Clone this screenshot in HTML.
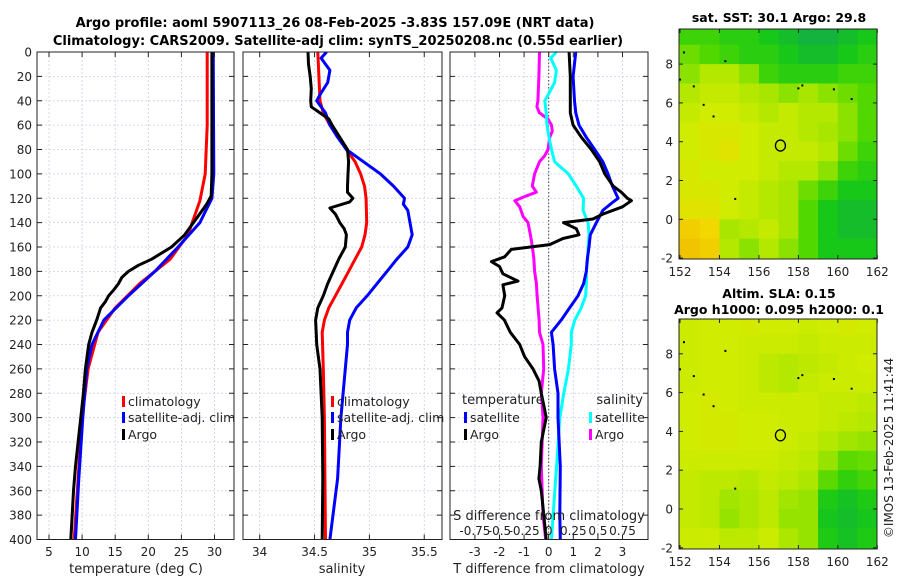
<!DOCTYPE html>
<html><head><meta charset="utf-8"><style>
html,body{margin:0;padding:0;background:#fff}
svg{display:block;font-family:"DejaVu Sans","Liberation Sans",sans-serif}
</style></head><body>
<svg id="fig" width="900" height="580" viewBox="0 0 900 580" xmlns="http://www.w3.org/2000/svg">
<text x="335" y="27" text-anchor="middle" font-size="13" font-weight="bold">Argo profile: aoml 5907113_26 08-Feb-2025 -3.83S 157.09E (NRT data)</text>
<text x="338" y="45" text-anchor="middle" font-size="13" font-weight="bold">Climatology: CARS2009. Satellite-adj clim: synTS_20250208.nc (0.55d earlier)</text>
<g id="g1"></g>
<g id="g2"></g>
<g id="g3"></g>
<g id="m1"></g>
<g id="m2"></g>
<text transform="translate(893,448) rotate(-90)" text-anchor="middle" font-size="12" fill="#222">©IMOS 13-Feb-2025 11:41:44</text>
</svg>
<script>
// ---- depth axis ----
const depthTicks = [0,20,40,60,80,100,120,140,160,180,200,220,240,260,280,300,320,340,360,380,400];
// ---- temperature panel ----
const tempTicks = [5,10,15,20,25,30];
const argoTD = [0,50,100,118,125,135,150,160,170,175,180,185,190,195,200,205,210,220,230,240,260,280,300,320,340,360,380,400];
const argoT  = [29.6,29.6,29.6,29.5,28.8,27.5,25.5,23.5,20.5,18.5,17,16,15.5,14.8,14,13.5,12.8,12.2,11.5,11,10.5,10.2,9.8,9.4,9,8.7,8.5,8.3];
const climTD = [0,60,100,122,150,170,190,210,230,260,300,350,400];
const climT  = [28.9,28.9,28.6,27.8,26,23.3,18.7,15,12.4,10.9,10,9.4,8.8];
const satTD  = [0,100,120,140,160,180,200,220,240,260,300,350,400];
const satT   = [29.8,29.9,29.6,27.8,24.5,21,17,13.3,11.5,10.7,10.1,9.5,9.0];
// ---- salinity panel ----
const salTicks = [34,34.5,35,35.5];
const argoSD = [0,10,20,30,40,45,50,55,60,70,80,90,100,110,115,120,123,128,133,140,145,150,160,170,180,190,200,210,220,230,240,260,300,350,400];
const argoS  = [34.44,34.445,34.46,34.47,34.465,34.47,34.55,34.63,34.66,34.73,34.80,34.81,34.805,34.80,34.80,34.85,34.82,34.64,34.69,34.73,34.77,34.79,34.78,34.72,34.67,34.62,34.58,34.53,34.51,34.515,34.52,34.55,34.57,34.575,34.57];
const climSD = [0,20,40,50,60,70,80,90,100,110,120,140,150,160,170,180,190,200,210,220,230,260,300,400];
const climS  = [34.53,34.54,34.55,34.58,34.64,34.72,34.79,34.87,34.92,34.955,34.97,34.975,34.96,34.93,34.87,34.81,34.75,34.69,34.63,34.59,34.57,34.58,34.59,34.60];
const satSD  = [0,5,15,25,35,40,50,60,70,80,90,100,110,120,125,130,140,150,160,170,180,190,200,210,220,230,240,260,300,350,400];
const satS   = [34.61,34.56,34.64,34.62,34.55,34.52,34.60,34.64,34.71,34.79,34.945,35.10,35.22,35.32,35.31,35.35,35.37,35.39,35.35,35.25,35.16,35.07,34.98,34.88,34.82,34.80,34.80,34.78,34.74,34.71,34.64];
// ---- difference panel ----
const diffTTicks = [-3,-2,-1,0,1,2,3];
const diffSTicks = [-0.75,-0.5,-0.25,0,0.25,0.5,0.75];
const dTArgoD = [0,20,40,50,60,70,80,90,100,110,115,120,122,127,133,137,140,145,150,153,158,162,168,172,176,182,188,191,200,210,214,220,230,240,250,260,270,280,290,300,320,340,350,360,380,400];
const dTArgo  = [0.83,0.88,0.88,0.88,0.99,1.33,1.73,2.07,2.28,2.62,2.95,3.2,3.36,3.0,2.2,1.8,0.6,1.12,1.23,0.58,0.04,-1.52,-1.79,-2.33,-2.0,-1.86,-1.25,-1.86,-1.79,-1.9,-2.1,-1.8,-1.56,-1.18,-0.98,-0.64,-0.39,-0.3,-0.2,-0.1,-0.3,-0.35,-0.4,-0.3,-0.2,-0.1];
const dTSatD = [0,20,40,50,60,70,80,90,100,110,120,123,130,140,150,160,170,180,190,200,210,220,230,240,260,280,300,340,380,400];
const dTSat  = [1.1,0.99,1.05,1.1,1.23,1.53,1.87,2.2,2.41,2.59,2.82,2.62,2.2,1.94,1.69,1.64,1.57,1.53,1.42,1.19,0.85,0.51,0.11,0.18,0.24,0.38,0.38,0.47,0.45,0.47];
const dSSatD = [0,5,15,25,35,40,50,60,70,80,90,100,110,120,130,140,150,160,170,180,190,200,210,220,230,240,260,280,300,340,380,400];
const dSSat  = [0.078,0.02,0.078,0.06,-0.005,-0.04,-0.025,-0.017,0.003,0.028,0.06,0.2,0.28,0.355,0.35,0.4,0.41,0.4,0.395,0.383,0.383,0.375,0.33,0.265,0.23,0.23,0.2,0.153,0.113,0.08,0.045,0.028];
const dSArgoD = [0,20,40,45,50,55,60,65,70,80,85,90,100,110,115,118,122,127,135,140,150,160,170,180,190,200,210,220,230,240,260,280,300,340,380,400];
const dSArgo  = [-0.093,-0.1,-0.11,-0.12,-0.093,-0.007,0.028,0.037,0.01,-0.007,-0.04,-0.093,-0.143,-0.167,-0.125,-0.225,-0.345,-0.295,-0.26,-0.21,-0.186,-0.166,-0.15,-0.143,-0.125,-0.118,-0.108,-0.098,-0.093,-0.058,-0.051,-0.075,-0.058,-0.075,-0.058,-0.03];
// ---- maps ----
const lonTicks = [152,154,156,158,160,162];
const latTicks = [-2,0,2,4,6,8];
const sstGrid = [
[0.75,0.75,0.8,0.8,0.85,0.9,0.95,0.95,0.9,0.85],
[0.65,0.7,0.75,0.8,0.8,0.85,0.9,0.9,0.85,0.8],
[0.6,0.5,0.5,0.6,0.75,0.8,0.8,0.8,0.75,0.75],
[0.5,0.45,0.45,0.5,0.55,0.6,0.55,0.6,0.65,0.7],
[0.45,0.4,0.4,0.45,0.5,0.45,0.5,0.5,0.6,0.7],
[0.4,0.35,0.35,0.4,0.45,0.45,0.5,0.55,0.6,0.7],
[0.4,0.35,0.3,0.4,0.45,0.45,0.45,0.5,0.65,0.75],
[0.35,0.4,0.4,0.4,0.45,0.5,0.5,0.6,0.75,0.8],
[0.35,0.35,0.4,0.45,0.5,0.55,0.65,0.75,0.85,0.85],
[0.3,0.3,0.4,0.45,0.5,0.55,0.7,0.85,0.9,0.9],
[0.15,0.2,0.55,0.5,0.45,0.55,0.7,0.85,0.9,0.9],
[0.1,0.15,0.5,0.6,0.5,0.6,0.7,0.85,0.85,0.85]];
const slaGrid = [
[0.42,0.4,0.4,0.38,0.4,0.4,0.42,0.4,0.38,0.4],
[0.42,0.4,0.4,0.42,0.42,0.42,0.45,0.42,0.42,0.42],
[0.42,0.4,0.4,0.42,0.47,0.5,0.47,0.45,0.42,0.4],
[0.42,0.4,0.4,0.42,0.47,0.5,0.45,0.42,0.42,0.42],
[0.4,0.38,0.4,0.42,0.42,0.42,0.42,0.45,0.45,0.47],
[0.4,0.38,0.38,0.4,0.4,0.42,0.42,0.45,0.47,0.5],
[0.4,0.38,0.38,0.4,0.4,0.42,0.45,0.5,0.56,0.58],
[0.42,0.42,0.42,0.42,0.42,0.45,0.48,0.58,0.68,0.66],
[0.45,0.47,0.47,0.5,0.45,0.48,0.53,0.68,0.78,0.73],
[0.45,0.47,0.56,0.53,0.47,0.56,0.58,0.83,0.88,0.83],
[0.45,0.47,0.58,0.53,0.47,0.58,0.58,0.86,0.9,0.86],
[0.42,0.42,0.47,0.47,0.42,0.53,0.58,0.83,0.88,0.83]];
const floatLon = [157.09];
const floatLat = [3.8];
const islandLon = [152.2,152.7,153.2,153.7,154.3,158.0,158.2,159.8,160.7,152.0,154.8];
const islandLat = [8.6,6.85,5.9,5.3,8.15,6.75,6.9,6.7,6.2,7.2,1.05];

const NS='http://www.w3.org/2000/svg';
function el(parent,tag,attrs){const e=document.createElementNS(NS,tag);for(const k in attrs)e.setAttribute(k,attrs[k]);parent.appendChild(e);return e;}
const Y0=52,Y1=539.5;
const yD=d=>Y0+d*(Y1-Y0)/400;

function frame(g,L,R,xTicks,xf,labelsLeft,prefix){
  for(const d of depthTicks){const l=el(g,'line',{x1:L,x2:R,y1:yD(d),y2:yD(d),stroke:'#c8d0e8','stroke-width':0.8,'stroke-dasharray':'2,2'});
  }
  for(const v of xTicks){const x=xf(v);const l=el(g,'line',{x1:x,x2:x,y1:Y0,y2:Y1,stroke:'#c8d0e8','stroke-width':0.8,'stroke-dasharray':'2,2'});
  }
}
function axes(g,L,R,xTicks,xf,labels,labelsLeft,prefix){
  const b=el(g,'rect',{x:L,y:Y0,width:R-L,height:Y1-Y0,fill:'none',stroke:'#222','stroke-width':1});
  
  for(const d of depthTicks){
    el(g,'line',{x1:L,x2:L+5,y1:yD(d),y2:yD(d),stroke:'#222'});
    el(g,'line',{x1:R-5,x2:R,y1:yD(d),y2:yD(d),stroke:'#222'});
    if(labelsLeft){const t=el(g,'text',{x:L-5,y:yD(d)+4.5,'text-anchor':'end','font-size':12,fill:'#222'});t.textContent=d;
      }
  }
  xTicks.forEach((v,i)=>{const x=xf(v);
    el(g,'line',{x1:x,x2:x,y1:Y1,y2:Y1-5,stroke:'#222'});el(g,'line',{x1:x,x2:x,y1:Y0,y2:Y0+5,stroke:'#222'});
    const t=el(g,'text',{x:x,y:556,'text-anchor':'middle','font-size':12,fill:'#222'});t.textContent=labels[i];
    });
}
function series(g,ds,vs,xf,color,name,clip){
  const pts=ds.map((d,i)=>xf(vs[i]).toFixed(1)+','+yD(d).toFixed(1)).join(' ');
  const p=el(g,'polyline',{points:pts,fill:'none',stroke:color,'stroke-width':3,'stroke-linejoin':'round','clip-path':'url(#'+clip+')'});
  
}
function clipRect(id,x,y,w,h){const svg=document.getElementById('fig');let defs=svg.querySelector('defs')||el(svg,'defs',{});const c=el(defs,'clipPath',{id:id});el(c,'rect',{x:x,y:y,width:w,height:h});}
function legendItem(g,x,y,color,txt,name,anchor){
  const m=el(g,'rect',{x:x,y:y-9,width:3,height:11,fill:color});
  const t=el(g,'text',{x:x+6,y:y+1,'font-size':12.5,fill:'#222'});t.textContent=txt;
}
function label(g,x,y,txt,name,anchor,size){const t=el(g,'text',{x:x,y:y,'text-anchor':anchor||'middle','font-size':size||13,fill:'#222'});t.textContent=txt;return t;}

// Panel 1
{const g=document.getElementById('g1');const L=37,R=234;const xf=t=>49+(t-5)*6.62;
 clipRect('c1',L,Y0,R-L,Y1-Y0);frame(g,L,R,tempTicks,xf,true,'temp');
 series(g,climTD,climT,xf,'#ff0000','temp-climatology-line','c1');
 series(g,satTD,satT,xf,'#0000ff','temp-satellite-line','c1');
 series(g,argoTD,argoT,xf,'#000','temp-argo-line','c1');
 axes(g,L,R,tempTicks,xf,tempTicks.map(String),true,'temp');
 label(g,136,573,'temperature (deg C)','temp-x-axis-title');
 legendItem(g,122,405,'#ff0000','climatology','legend-climatology');
 legendItem(g,122,421,'#0000ff','satellite-adj. clim','legend-satellite');
 legendItem(g,122,438,'#000','Argo','legend-argo');}
// Panel 2
{const g=document.getElementById('g2');const L=243,R=442;const xf=s=>259.7+(s-34)*109.7;
 clipRect('c2',L,Y0,R-L,Y1-Y0);frame(g,L,R,salTicks,xf,false,'sal');
 series(g,climSD,climS,xf,'#ff0000','sal-climatology-line','c2');
 series(g,satSD,satS,xf,'#0000ff','sal-satellite-line','c2');
 series(g,argoSD,argoS,xf,'#000','sal-argo-line','c2');
 axes(g,L,R,salTicks,xf,salTicks.map(String),false,'sal');
 label(g,342,573,'salinity','sal-x-axis-title');
 legendItem(g,331,405,'#ff0000','climatology','legend2-climatology');
 legendItem(g,331,421,'#0000ff','satellite-adj. clim','legend2-satellite');
 legendItem(g,331,438,'#000','Argo','legend2-argo');}
// Panel 3
{const g=document.getElementById('g3');const L=450,R=648;const xf=t=>548.7+t*24.6;const xs=s=>548.7+s*4*24.6;
 clipRect('c3',L,Y0,R-L,Y1-Y0);frame(g,L,R,diffTTicks,xf,false,'diff');
 const z=el(g,'line',{x1:xf(0),x2:xf(0),y1:Y0,y2:Y1,stroke:'#445','stroke-width':1,'stroke-dasharray':'1.5,2'});
 
 series(g,dSArgoD,dSArgo,xs,'#ff00ff','sal-diff-argo-line','c3');
 series(g,dSSatD,dSSat,xs,'#00ffff','sal-diff-satellite-line','c3');
 series(g,dTSatD,dTSat,xf,'#0000ff','temp-diff-satellite-line','c3');
 series(g,dTArgoD,dTArgo,xf,'#000','temp-diff-argo-line','c3');
 axes(g,L,R,diffTTicks,xf,diffTTicks.map(String),false,'diff');
 label(g,549,573,'T difference from climatology','diff-x-axis-title');
 label(g,549,520,'S difference from climatology','s-diff-axis-title');
 diffSTicks.forEach(s=>{const t=label(g,xs(s),535,String(s).replace('0.','0.').replace(/^(-?)0\./,'$10.'),'s-diff-tick-label','middle',12);});
 label(g,462,404,'temperature','legend3-temperature-header','start');
 legendItem(g,464,421,'#0000ff','satellite','legend3-temp-satellite');
 legendItem(g,464,438,'#000','Argo','legend3-temp-argo');
 label(g,643,404,'salinity','legend3-salinity-header','end');
 legendItem(g,589,421,'#00ffff','satellite','legend3-sal-satellite');
 legendItem(g,589,438,'#ff00ff','Argo','legend3-sal-argo');}

// Maps
const cstops=[[0,[240,176,0]],[0.2,[240,216,0]],[0.4,[208,236,0]],[0.55,[168,230,0]],[0.7,[80,216,0]],[0.85,[24,200,24]],[1,[16,168,80]]];
function cmap(v){for(let i=1;i<cstops.length;i++){if(v<=cstops[i][0]){const a=cstops[i-1],b=cstops[i];const f=(v-a[0])/(b[0]-a[0]);
  return 'rgb('+a[1].map((c,k)=>Math.round(c+(b[1][k]-c)*f)).join(',')+')';}}return 'rgb(16,168,80)';}
function drawMap(id,grid,top,bottom,lat0y,title1,title2,prefix){
  const g=document.getElementById(id);const L=679,R=877;
  const xl=lon=>680+(lon-152)*19.73;const yl=lat=>lat0y-lat*19.4;
  clipRect(prefix+'-clip',L,top,R-L,bottom-top);
  const cg=el(g,'g',{'clip-path':'url(#'+prefix+'-clip)'});
  grid.forEach((row,r)=>row.forEach((v,c)=>{
    const x0=xl(152+c)-(c===0?3:0),x1=xl(153+c)+(c===9?3:0);const y0=yl(10-r),y1=yl(9-r)+(r===11?3:0);
    const cell=el(cg,'rect',{x:x0,y:y0,width:x1-x0+0.5,height:y1-y0+0.5,fill:cmap(v)});
    }));
  islandLon.forEach((lo,i)=>{const d=el(cg,'rect',{x:xl(lo)-1,y:yl(islandLat[i])-1,width:2,height:2,fill:'#000'});
    });
  const c=el(g,'ellipse',{cx:xl(floatLon[0]),cy:yl(floatLat[0]),rx:5,ry:5.5,fill:'none',stroke:'#000','stroke-width':1.3});
  
  const b=el(g,'rect',{x:L,y:top,width:R-L,height:bottom-top,fill:'none',stroke:'#222'});
  
  lonTicks.forEach(lo=>{const x=xl(lo);el(g,'line',{x1:x,x2:x,y1:bottom,y2:bottom-4,stroke:'#222'});el(g,'line',{x1:x,x2:x,y1:top,y2:top+4,stroke:'#222'});
    const t=el(g,'text',{x:x,y:bottom+17,'text-anchor':'middle','font-size':12,fill:'#222'});t.textContent=lo;});
  latTicks.forEach(la=>{const y=yl(la);el(g,'line',{x1:L,x2:L+4,y1:y,y2:y,stroke:'#222'});el(g,'line',{x1:R-4,x2:R,y1:y,y2:y,stroke:'#222'});
    const t=el(g,'text',{x:L-6,y:y+4.5,'text-anchor':'end','font-size':12,fill:'#222'});t.textContent=la;});
  const t1=el(g,'text',{x:779,y:top-(title2?21:7),'text-anchor':'middle','font-size':12.5,'font-weight':'bold'});t1.textContent=title1;
  
  if(title2){const t2=el(g,'text',{x:779,y:top-5,'text-anchor':'middle','font-size':12.5,'font-weight':'bold'});t2.textContent=title2;
  }
}
drawMap('m1',sstGrid,29,259,219.3,'sat. SST: 30.1 Argo: 29.8',null,'sst');
drawMap('m2',slaGrid,319,549,509,'Altim. SLA: 0.15','Argo h1000: 0.095 h2000: 0.1','sla');
</script>
</body></html>
